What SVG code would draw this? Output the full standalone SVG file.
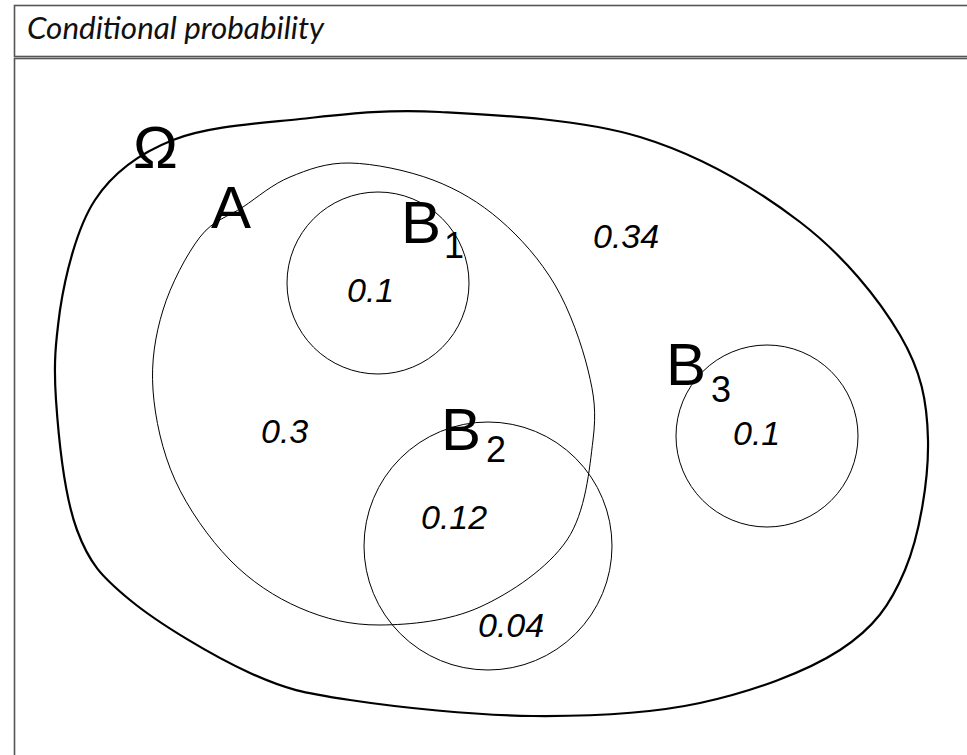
<svg xmlns="http://www.w3.org/2000/svg" width="967" height="755" viewBox="0 0 967 755">
<style>
.frame{fill:none;stroke:#555;stroke-width:1.6}
.title{font-family:Lato,"Liberation Sans",sans-serif;font-style:italic;font-size:31.4px;fill:#111}
.omega{fill:none;stroke:#000;stroke-width:2.2}
.set{fill:none;stroke:#000;stroke-width:1}
.lab{font-family:"Liberation Sans",Arial,sans-serif;font-size:60px;fill:#000}
.sub{font-family:"Liberation Sans",Arial,sans-serif;font-size:36px;fill:#000}
.num{font-family:"Liberation Sans",Arial,sans-serif;font-style:italic;font-size:34px;fill:#000}
</style>
<rect width="967" height="755" fill="#fff"/>
<g id="frame">
<rect class="frame" x="14.5" y="5.5" width="1000" height="51"/>
<rect class="frame" x="14.5" y="58.5" width="1000" height="800"/>
<text class="title" x="27" y="39">Conditional probability</text>
</g>
<g id="omega">
<path class="omega" d="M56,400 C53.5,363.3 55.5,343.3 60,310 C65,276.7 76.5,228.3 95,200 C113.5,171.7 138.8,153.5 173,140 C207.2,126.5 255.5,123.7 300,119 C344.5,114.3 383.3,109 440,112 C496.7,115 580,118.7 640,137 C700,155.3 756.7,189 800,222 C843.3,255 878.7,298.7 900,335 C921.3,371.3 927.2,400.8 928,440 C928.8,479.2 919.7,535 905,570 C890.3,605 874.2,627.8 840,650 C805.8,672.2 751.2,692 700,703 C648.8,714 591.3,716.5 533,716 C474.7,715.5 397.2,707.2 350,700 C302.8,692.8 286.7,689.7 250,673 C213.3,656.3 158.8,623.8 130,600 C101.2,576.2 89.3,563.3 77,530 C64.7,496.7 58.5,436.7 56,400 Z"/>
<text class="lab" x="133" y="168">Ω</text>
<text class="num" x="593" y="248">0.34</text>
</g>
<g id="A">
<path class="set" d="M350,163 C373.8,163.5 408,170.5 433,180 C458,189.5 479.7,202.5 500,220 C520.3,237.5 540.3,260 555,285 C569.7,310 581.7,344.2 588,370 C594.3,395.8 596.5,411.7 593,440 C589.5,468.3 585.8,512.2 567,540 C548.2,567.8 511.2,592.8 480,607 C448.8,621.2 410,624.8 380,625 C350,625.2 325,618.8 300,608 C275,597.2 250.8,581.3 230,560 C209.2,538.7 187.8,508.3 175,480 C162.2,451.7 155,418.3 153,390 C151,361.7 155.2,335.5 163,310 C170.8,284.5 186.7,254.2 200,237 C213.3,219.8 228,217 243,207 C258,197 272.2,184.3 290,177 C307.8,169.7 326.2,162.5 350,163 Z"/>
<text class="lab" x="211" y="228">A</text>
<text class="num" x="261" y="443">0.3</text>
</g>
<g id="B1">
<circle class="set" cx="378" cy="283" r="91"/>
<text class="lab" x="401" y="243">B</text>
<text class="sub" x="444" y="258">1</text>
<text class="num" x="347" y="302">0.1</text>
</g>
<g id="B2">
<circle class="set" cx="488" cy="546" r="124"/>
<text class="lab" x="441" y="450">B</text>
<text class="sub" x="486" y="462">2</text>
<text class="num" x="421" y="529">0.12</text>
<text class="num" x="478" y="637">0.04</text>
</g>
<g id="B3">
<circle class="set" cx="767" cy="436" r="91"/>
<text class="lab" x="666" y="385">B</text>
<text class="sub" x="711" y="402">3</text>
<text class="num" x="733" y="445">0.1</text>
</g>
<g id="connectors"/>
</svg>
